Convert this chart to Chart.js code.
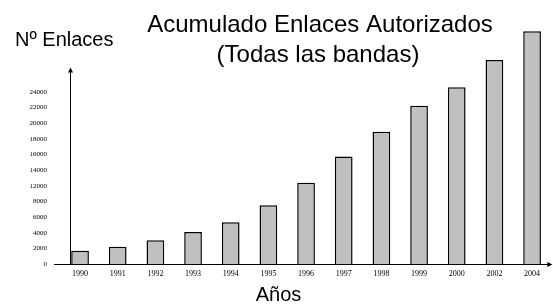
<!DOCTYPE html>
<html>
<head>
<meta charset="utf-8">
<script src="https://cdn.jsdelivr.net/npm/chart.js@4/dist/chart.umd.min.js"></script>
<style>
  html, body { margin: 0; padding: 0; background: #fff; }
  #wrap { width: 553px; height: 306px; }
</style>
</head>
<body>
<div id="wrap"><canvas id="c" width="553" height="306"></canvas></div>
<script>
// ---- data ----
const years = ['1990','1991','1992','1993','1994','1995','1996','1997','1998','1999','2000','2002','2004'];
const enlaces = [1700, 2200, 3050, 4100, 5350, 7500, 10400, 13750, 16900, 20250, 22600, 26100, 29750];
const yTickLabels = ['0','2000','4000','6000','8000','12000','14000','16000','18000','20000','22000','24000'];
const yTickStep = 2000;
const titleLines = ['Acumulado Enlaces Autorizados', '(Todas las bandas)'];
const yAxisTitle = 'Nº Enlaces';
const xAxisTitle = 'Años';

const decor = {
  id: 'decor',
  afterDraw(chart) {
    const ctx = chart.ctx;
    const ca = chart.chartArea;
    const ys = chart.scales.y;
    ctx.save();
    ctx.strokeStyle = '#000';
    ctx.fillStyle = '#000';
    ctx.lineWidth = 1;
    // x axis line with arrow
    const yb = ys.getPixelForValue(0) + 0.5;
    ctx.beginPath();
    ctx.moveTo(ca.left - 17, yb);
    ctx.lineTo(ca.right, yb);
    ctx.stroke();
    ctx.beginPath();
    ctx.moveTo(ca.right + 3, yb);
    ctx.lineTo(ca.right - 2, yb - 2.5);
    ctx.lineTo(ca.right - 2, yb + 2.5);
    ctx.closePath();
    ctx.fill();
    // y axis line with arrow
    const xl = ca.left - 0.5;
    const yTop = ys.getPixelForValue(25000);
    ctx.beginPath();
    ctx.moveTo(xl, yb);
    ctx.lineTo(xl, yTop + 3);
    ctx.stroke();
    ctx.beginPath();
    ctx.moveTo(xl, yTop - 1);
    ctx.lineTo(xl - 2.5, yTop + 4);
    ctx.lineTo(xl + 2.5, yTop + 4);
    ctx.closePath();
    ctx.fill();
    // texts
    ctx.fillStyle = '#000';
    ctx.textBaseline = 'alphabetic';
    ctx.font = '24px "Liberation Sans", Arial, sans-serif';
    ctx.textAlign = 'center';
    ctx.fillText(titleLines[0], 320, 31.5);
    ctx.fillText(titleLines[1], 318, 61.5);
    ctx.font = '20px "Liberation Sans", Arial, sans-serif';
    ctx.textAlign = 'left';
    ctx.fillText(yAxisTitle, 15, 46);
    ctx.textAlign = 'center';
    ctx.fillText(xAxisTitle, 278.5, 300.5);
    ctx.restore();
  }
};

new Chart(document.getElementById('c'), {
  type: 'bar',
  data: {
    datasets: [{
      data: years.map((y, i) => ({ x: i, y: enlaces[i] })),
      backgroundColor: '#c0c0c0',
      borderColor: '#000',
      borderWidth: 1.5,
      barPercentage: 0.47,
      categoryPercentage: 1
    }]
  },
  options: {
    responsive: false,
    animation: false,
    events: [],
    layout: { padding: { top: 21.6, right: 3.6, left: 0, bottom: 0 } },
    plugins: { legend: { display: false }, title: { display: false }, tooltip: { enabled: false } },
    scales: {
      x: {
        type: 'linear',
        offset: false,
        min: -0.24,
        max: 12.46,
        grid: { display: false, drawTicks: false, offset: false },
        border: { display: false },
        afterBuildTicks(scale) { scale.ticks = years.map((y, i) => ({ value: i })); },
        afterFit(scale) { scale.height = 42; scale.paddingLeft = 0; scale.paddingRight = 0; },
        ticks: {
          autoSkip: false,
          maxRotation: 0,
          padding: 5,
          color: '#000',
          font: { family: '"Liberation Serif", "Times New Roman", serif', size: 8 },
          callback: (v) => years[v]
        }
      },
      y: {
        type: 'linear',
        min: 0,
        max: 31000,
        grid: { display: false, drawTicks: false },
        border: { display: false },
        afterBuildTicks(scale) { scale.ticks = yTickLabels.map((t, i) => ({ value: i * yTickStep })); },
        afterFit(scale) { scale.width = 71; scale.paddingTop = 0; scale.paddingBottom = 0; },
        ticks: {
          padding: 24,
          color: '#000',
          font: { family: '"Liberation Serif", "Times New Roman", serif', size: 7 },
          callback: (v) => yTickLabels[Math.round(v / yTickStep)]
        }
      }
    }
  },
  plugins: [decor]
});
</script>
</body>
</html>
